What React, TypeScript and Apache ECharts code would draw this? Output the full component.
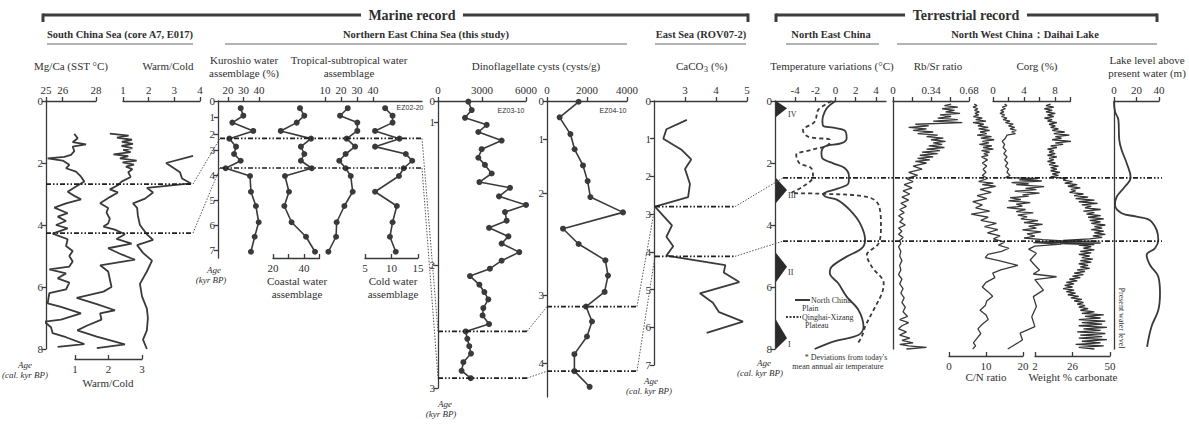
import React, { useEffect, useRef } from "react";
import * as echarts from "echarts";

type Pt = [number, number]; // [age (kyr BP), value]

// ---------------- South China Sea (core A7, E017) ----------------
const scsMgCaSst: Pt[] = [[1.06,26.7],[1.2,26.9],[1.33,26.6],[1.4,27.4],[1.47,26.6],[1.62,26.7],[1.74,26.5],[1.8,26.1],[1.85,25.1],[1.92,26.0],[2.06,26.4],[2.17,26.2],[2.28,26.8],[2.44,27.1],[2.6,27.3],[2.76,26.8],[2.93,26.3],[3.06,26.7],[3.17,27.1],[3.3,26.2],[3.44,25.5],[3.62,26.3],[3.73,25.7],[3.87,26.2],[4.0,25.6],[4.11,26.3],[4.22,25.7],[4.28,25.4],[4.46,26.3],[4.68,26.2],[4.84,26.6],[5.0,26.4],[5.18,26.6],[5.34,26.4],[5.43,25.2],[5.56,26.2],[5.72,25.7],[5.86,26.4],[6.08,26.2],[6.2,25.2],[6.53,25.1],[6.64,25.9],[6.85,27.1],[7.05,25.9],[7.12,24.9],[7.3,25.3],[7.49,25.4],[7.62,26.2],[7.84,27.3],[7.93,25.7]];
const scsWarmColdLower: Pt[] = [[1.05,2.04],[1.12,2.6],[1.18,2.25],[1.25,2.7],[1.32,2.4],[1.38,2.73],[1.45,2.39],[1.52,2.71],[1.58,2.44],[1.65,2.66],[1.72,2.15],[1.78,2.59],[1.85,2.34],[1.92,2.84],[1.98,2.42],[2.05,2.76],[2.12,2.52],[2.2,2.71],[2.3,2.59],[2.45,2.66],[2.6,2.39],[2.72,2.28],[2.85,2.04],[2.95,2.28],[3.1,2.04],[3.3,1.75],[3.45,1.99],[3.6,1.94],[3.8,2.04],[3.95,1.99],[4.05,1.85],[4.15,2.19],[4.3,2.49],[4.45,2.24],[4.6,2.69],[4.75,1.99],[4.95,2.39],[5.12,2.79],[5.3,1.75],[5.5,1.99],[5.75,2.04],[6.0,2.09],[6.15,1.85],[6.35,1.05],[6.55,1.65],[6.75,2.19],[6.85,1.75],[7.05,1.79],[7.25,1.35],[7.4,1.07],[7.6,1.65],[7.85,2.49],[7.97,1.65]];
const scsWarmColdUpper: Pt[] = [[1.77,3.73],[2.0,2.68],[2.3,3.22],[2.5,3.3],[2.66,3.65],[2.8,1.93],[2.95,2.17],[3.15,1.86],[3.3,1.39],[3.45,1.55],[3.7,1.58],[4.0,1.66],[4.3,1.93],[4.48,2.17],[4.65,1.55],[4.9,1.78],[5.15,2.13],[5.5,1.93],[5.9,1.66],[6.3,1.74],[6.7,1.93],[7.0,1.97],[7.4,1.93],[7.7,1.78],[8.0,1.93]];
const scsEvents = [2.68, 4.26];

// ---------------- Northern East China Sea (this study) ----------------
const ez0220Ages = [0.45,0.92,1.33,1.82,2.29,2.79,3.16,3.43,3.73,4.04,4.67,5.24,5.89,6.47,7.07];
const ez0220Kuroshio = [28.2,29.9,22.8,36.3,20.9,25.2,23.9,28.2,18.5,34.2,34.8,38,39.8,37.2,34.8];
const ez0220Coastal = [37.4,40.2,35.3,25,44.5,38,40.2,38,45,27.7,30.3,27.3,32,41.3,47.1];
const ez0220Tropical = [24.2,19.4,30.2,30.2,23.5,28.8,22.9,18.9,22.9,26.1,27.3,22.1,17.3,16.9,12.1];
const ez0220Cold = [8.8,10.2,10.2,6.9,11.5,6.9,12.7,13.9,12.3,11.4,6.9,11,10.2,9.7,10.8];
const ez0220Events = [2.27, 3.72];

const ez0310Ages = [0.03,0.43,0.80,1.02,1.07,1.13,1.19,1.25,1.30,1.36,1.42,1.46,1.52,1.58,1.63,1.69,1.74,1.80,1.85,1.91,1.97,2.03,2.09,2.16,2.22,2.28,2.35,2.41,2.48,2.54,2.60,2.66,2.72,2.79,2.86,2.92];
const ez0310Cysts = [2070,2300,1840,3320,2750,4340,2980,2750,3200,3660,2820,4910,4160,6000,4570,4680,3480,4800,4340,5540,4340,3540,2180,2820,3160,3430,3090,3040,3480,1890,2000,2130,2250,1730,1610,2230];
const ez0310Events = [2.54, 2.92];

const ez0410Ages = [0.02,0.43,0.87,1.19,1.49,1.78,2.04,2.19,2.35,2.50,2.66,2.81,2.97,3.17,3.39,3.61,3.87,4.12,4.35];
const ez0410Cysts = [1580,630,1170,1380,1800,2030,2170,3800,800,1580,2920,3050,2880,1950,2250,2000,1370,1370,2130];
const ez0410Events = [3.17, 4.12];

// age ticks of the cores and their positions along the core axis (age-depth scale)
const ez0220Scale = { ages: [0,1,2,3,4,5,6,7], depth: [0,16,33,49,74,99,124,149], bottom: 157 };
const ez0310Scale = { ages: [0,1,2,3], depth: [0,21,164,287], bottom: 287 };
const ez0410Scale = { ages: [0,1,2,3,4], depth: [0,38,92,194,262], bottom: 296 };

// ---------------- East Sea (ROV07-2) ----------------
const caco3: Pt[] = [[0.5,3.06],[0.75,2.4],[1.0,2.3],[1.3,2.9],[1.55,3.2],[1.8,3.0],[2.2,3.16],[2.55,3.1],[2.8,2.03],[3.3,2.58],[3.6,2.4],[3.85,2.62],[4.1,2.4],[4.35,4.3],[4.55,4.25],[4.8,4.75],[5.1,3.48],[5.35,3.9],[5.6,4.1],[5.85,4.87],[6.15,3.7]];
const caco3Events = [2.8, 4.12];

// ---------------- North East China: temperature deviations ----------------
const northChinaPlain: Pt[] = [[0,0],[0.18,-0.73],[0.34,-1.07],[0.61,-1.3],[0.8,-1.23],[0.86,-0.23],[0.96,0.93],[1.2,1.1],[1.36,0.6],[1.47,-1.07],[1.69,-1.4],[1.85,-1.3],[2.01,-0.23],[2.17,0.93],[2.44,1.33],[2.66,1.27],[2.82,0.27],[3.0,-1.23],[3.09,-0.97],[3.19,0.17],[3.52,1.43],[3.95,2.43],[4.48,2.93],[4.75,2.6],[5.02,1.1],[5.35,-0.4],[5.56,-0.57],[5.88,0.27],[6.31,1.1],[6.74,2.27],[7.28,2.77],[7.55,2.27],[7.76,-0.23],[8.0,-2.07]];
const qinghaiXizang: Pt[] = [[0,-0.4],[0.13,-1.07],[0.29,-1.73],[0.67,-2.07],[0.94,-3.23],[1.15,-2.73],[1.26,-0.57],[1.42,-0.73],[1.58,-2.4],[1.74,-3.9],[2.01,-3.57],[2.17,-2.4],[2.44,-2.23],[2.76,-3.23],[2.96,-4.4],[2.99,-1.57],[3.09,3.1],[3.35,4.27],[4.05,4.5],[4.59,4.27],[4.97,3.1],[5.35,3.6],[5.88,4.77],[6.2,4.6],[6.74,3.77],[7.28,2.93],[7.6,2.6],[7.87,2.1]];
const coldZones = [[0, 0.23, 0.52], [2.48, 2.87, 3.29], [4.9, 5.35, 5.84], [7.06, 7.65, 8.0]];
const coldZoneLabels = ["IV", "III", "II", "I"];
const terrEvents = [2.48, 4.52];

// ---------------- North West China: Daihai Lake ----------------
const rbSr: Pt[] = [[0.10,0.52],[0.15,0.46],[0.20,0.58],[0.25,0.44],[0.30,0.55],[0.35,0.47],[0.40,0.60],[0.45,0.42],[0.50,0.52],[0.55,0.40],[0.60,0.58],[0.65,0.36],[0.70,0.62],[0.75,0.20],[0.80,0.32],[0.85,0.14],[0.90,0.30],[0.95,0.18],[1.00,0.36],[1.05,0.22],[1.10,0.40],[1.15,0.30],[1.20,0.45],[1.25,0.34],[1.30,0.47],[1.35,0.36],[1.40,0.44],[1.45,0.32],[1.50,0.46],[1.55,0.30],[1.60,0.42],[1.65,0.26],[1.70,0.40],[1.75,0.24],[1.80,0.36],[1.85,0.22],[1.90,0.33],[1.95,0.20],[2.00,0.30],[2.10,0.18],[2.20,0.26],[2.30,0.14],[2.40,0.22],[2.50,0.12],[2.60,0.18],[2.70,0.10],[2.80,0.17],[2.90,0.09],[3.00,0.15],[3.10,0.08],[3.20,0.14],[3.30,0.07],[3.40,0.12],[3.50,0.06],[3.60,0.10],[3.70,0.05],[3.80,0.09],[3.90,0.06],[4.00,0.11],[4.10,0.05],[4.20,0.08],[4.30,0.05],[4.40,0.09],[4.50,0.06],[4.60,0.07],[4.70,0.05],[4.85,0.07],[5.00,0.06],[5.15,0.08],[5.30,0.06],[5.45,0.07],[5.60,0.05],[5.75,0.08],[5.90,0.06],[6.05,0.09],[6.20,0.07],[6.35,0.10],[6.50,0.08],[6.65,0.11],[6.80,0.09],[6.95,0.13],[7.05,0.06],[7.15,0.14],[7.25,0.08],[7.35,0.05],[7.45,0.12],[7.55,0.06],[7.65,0.15],[7.72,0.08],[7.80,0.18],[7.85,0.06],[7.90,0.14],[7.95,0.30],[8.00,0.12]];
const cnRatio: Pt[] = [[0.10,6.8],[0.15,7.6],[0.20,6.5],[0.25,7.8],[0.30,6.9],[0.35,8.2],[0.40,7.0],[0.45,8.0],[0.50,6.6],[0.55,9.0],[0.60,7.2],[0.65,10.0],[0.70,6.5],[0.75,9.4],[0.80,7.8],[0.85,10.6],[0.90,8.0],[0.95,11.0],[1.00,8.4],[1.05,10.2],[1.10,7.6],[1.15,11.5],[1.20,8.6],[1.25,12.2],[1.30,9.0],[1.35,10.8],[1.40,8.2],[1.45,11.6],[1.50,9.2],[1.55,12.0],[1.60,8.8],[1.65,11.0],[1.70,9.4],[1.75,10.6],[1.80,8.8],[1.90,10.4],[2.00,9.0],[2.10,10.2],[2.20,9.2],[2.30,10.0],[2.40,9.0],[2.50,10.4],[2.60,8.0],[2.65,12.0],[2.70,9.0],[2.75,12.6],[2.85,8.4],[2.95,11.4],[3.05,7.6],[3.15,10.2],[3.25,6.4],[3.35,9.0],[3.45,7.2],[3.55,11.0],[3.65,6.0],[3.75,10.6],[3.85,8.6],[3.95,12.8],[4.05,9.6],[4.15,13.2],[4.25,10.4],[4.35,13.8],[4.45,12.0],[4.55,15.0],[4.65,13.4],[4.75,16.2],[4.85,14.2],[4.95,10.5],[5.05,9.8],[5.15,13.5],[5.30,18.6],[5.45,14.0],[5.55,11.8],[5.70,12.4],[5.85,10.0],[6.00,9.0],[6.15,10.5],[6.30,11.8],[6.45,10.2],[6.60,9.8],[6.75,8.4],[6.90,10.0],[7.05,10.6],[7.20,9.0],[7.35,7.8],[7.50,8.6],[7.65,7.6],[7.80,6.6],[7.90,7.2],[8.00,6.4]];
const corg: Pt[] = [[0.10,1.5],[0.15,1.8],[0.20,1.2],[0.25,1.6],[0.30,1.0],[0.35,1.4],[0.40,0.9],[0.45,1.5],[0.50,1.1],[0.55,1.8],[0.60,1.3],[0.65,2.2],[0.70,1.6],[0.75,2.6],[0.80,2.0],[0.85,2.8],[0.90,2.2],[0.95,3.0],[1.00,2.4],[1.05,2.9],[1.10,1.8],[1.20,1.6],[1.30,1.2],[1.40,1.5],[1.50,1.3],[1.60,1.7],[1.70,1.4],[1.80,1.8],[1.90,1.5],[2.00,1.9],[2.10,1.6],[2.20,2.0],[2.30,1.8],[2.40,2.2],[2.47,1.6],[2.50,5.8],[2.54,3.4],[2.58,6.3],[2.63,2.4],[2.67,4.6],[2.70,3.0],[2.76,6.6],[2.82,4.2],[2.86,5.6],[2.91,2.8],[2.97,6.0],[3.03,3.8],[3.07,4.6],[3.12,2.2],[3.18,3.6],[3.22,2.0],[3.28,4.8],[3.33,3.0],[3.39,3.8],[3.44,1.8],[3.50,4.2],[3.57,3.0],[3.61,5.2],[3.68,3.2],[3.74,4.4],[3.80,3.6],[3.86,5.8],[3.92,4.0],[3.98,6.4],[4.04,4.6],[4.10,5.6],[4.16,3.8],[4.22,6.2],[4.29,4.4],[4.36,5.4],[4.42,4.0],[4.47,6.4],[4.52,9.6],[4.57,5.2],[4.62,8.8],[4.68,5.4],[4.78,4.6],[4.91,5.6],[5.13,4.8],[5.30,5.4],[5.45,6.0],[5.58,5.2],[5.67,8.2],[5.76,5.4],[5.88,5.8],[6.10,6.5],[6.31,5.2],[6.63,5.6],[6.96,5.0],[7.28,5.4],[7.49,3.5],[7.71,3.8],[8.00,1.9]];
const carbonate: Pt[] = [[0.10,12],[0.15,9],[0.20,14],[0.25,8],[0.30,13],[0.35,9],[0.40,15],[0.45,10],[0.50,14],[0.55,8],[0.60,13],[0.65,10],[0.70,16],[0.75,11],[0.80,15],[0.85,12],[0.90,17],[0.95,13],[1.00,21],[1.05,14],[1.10,24],[1.15,15],[1.20,19],[1.25,13],[1.30,25],[1.35,15],[1.40,20],[1.45,12],[1.50,16],[1.55,10],[1.60,14],[1.65,11],[1.70,15],[1.75,10],[1.80,16],[1.85,11],[1.90,14],[1.95,10],[2.00,15],[2.05,11],[2.10,17],[2.15,12],[2.20,16],[2.25,12],[2.30,18],[2.35,13],[2.40,17],[2.45,12],[2.50,22],[2.55,20],[2.60,26],[2.65,21],[2.70,29],[2.75,23],[2.80,31],[2.85,25],[2.90,28],[2.95,24],[3.00,33],[3.05,27],[3.10,36],[3.15,28],[3.20,40],[3.25,30],[3.30,42],[3.35,32],[3.40,38],[3.45,34],[3.50,44],[3.55,33],[3.60,40],[3.65,35],[3.70,44],[3.75,36],[3.80,46],[3.85,37],[3.90,44],[3.95,38],[4.00,47],[4.05,40],[4.10,45],[4.15,38],[4.20,46],[4.25,40],[4.30,47],[4.35,39],[4.40,45],[4.45,37],[4.50,20],[4.52,42],[4.55,2],[4.58,44],[4.60,18],[4.63,40],[4.65,30],[4.70,38],[4.75,33],[4.80,40],[4.85,31],[4.90,38],[4.95,30],[5.00,37],[5.05,32],[5.10,39],[5.15,31],[5.20,38],[5.25,30],[5.30,36],[5.35,31],[5.40,37],[5.45,29],[5.50,34],[5.55,27],[5.60,33],[5.65,26],[5.70,31],[5.75,24],[5.80,29],[5.85,22],[5.90,27],[5.95,21],[6.00,26],[6.05,20],[6.10,27],[6.15,22],[6.20,28],[6.25,23],[6.30,30],[6.35,25],[6.40,32],[6.45,27],[6.50,33],[6.55,29],[6.60,34],[6.65,30],[6.70,36],[6.75,31],[6.80,40],[6.85,32],[6.90,46],[6.95,34],[7.00,44],[7.05,30],[7.10,47],[7.15,32],[7.20,45],[7.25,30],[7.30,48],[7.35,33],[7.40,44],[7.45,29],[7.50,47],[7.55,31],[7.60,45],[7.65,30],[7.70,48],[7.75,32],[7.80,44],[7.85,28],[7.90,46],[7.95,30],[8.00,40]];
const lakeLevel: Pt[] = [[0.02,0],[0.34,0.9],[0.61,3.9],[1.26,4.7],[1.58,6.8],[2.01,11.3],[2.47,14.8],[2.76,9.8],[3.09,2.4],[3.35,0.9],[3.62,6.8],[3.73,20],[3.89,33.3],[4.48,39.4],[4.75,36.4],[4.97,29],[5.29,32],[5.67,39.4],[6.2,40.9],[6.74,39.4],[7.28,33.3],[7.93,29.4]];

// ---------------- styling ----------------
const SERIF = "'Liberation Serif', 'Times New Roman', serif";
const SANS = "'Liberation Sans', Arial, sans-serif";
const INK = "#3a3a3a";
const TXT = "#2f2f2f";
const AX = { color: "#3a3a3a", width: 1.3 };

function toDepth(s: { ages: number[]; depth: number[] }, age: number) {
  const a = s.ages, d = s.depth;
  let i = 0;
  while (i < a.length - 2 && age > a[i + 1]) i++;
  return d[i] + ((age - a[i]) * (d[i + 1] - d[i])) / (a[i + 1] - a[i]);
}
const depthFmt = (s: { ages: number[]; depth: number[] }) => (v: number) => {
  const i = s.depth.findIndex((d) => Math.abs(d - v) < 0.01);
  return i >= 0 ? String(s.ages[i]) : "";
};

function buildOption() {
  const grid: any[] = [], xAxis: any[] = [], yAxis: any[] = [], series: any[] = [];
  const lbl = { color: TXT, fontFamily: SERIF, fontSize: 11 };

  function panel(left: number, top: number, width: number, height: number) {
    grid.push({ left, top, width, height, show: false });
    return grid.length - 1;
  }
  function xA(g: number, min: number, max: number, o: any = {}) {
    xAxis.push({
      gridIndex: g, type: "value", min, max, position: o.pos || "top", offset: o.offset || 0,
      show: o.hidden ? false : true,
      axisLine: { show: o.line !== false, onZero: false, lineStyle: AX },
      axisTick: { show: !!o.ticks, customValues: o.ticks, inside: !!o.inside, length: 4, lineStyle: AX },
      axisLabel: { show: !!o.labels, customValues: o.labels, margin: o.pos === "bottom" ? 4 : 6, formatter: (v: number) => String(v), ...lbl },
      splitLine: { show: false },
    });
  }
  function yA(g: number, max: number, o: any = {}) {
    yAxis.push({
      gridIndex: g, type: "value", inverse: true, min: 0, max,
      show: o.hidden ? false : true,
      axisLine: { show: !!o.line, onZero: false, lineStyle: AX },
      axisTick: { show: !!o.ticks, customValues: o.ticks, length: 4, lineStyle: AX },
      axisLabel: { show: !!o.labels, customValues: o.labels, margin: 3, formatter: o.fmt || ((v: number) => String(v)), ...lbl },
      splitLine: { show: false },
    });
  }
  function line(g: number, data: number[][], extra: any = {}) {
    series.push({
      type: "line", xAxisIndex: g, yAxisIndex: g, data, symbol: "none", clip: false, silent: true,
      lineStyle: { color: INK, width: 1.6 }, ...extra,
    });
  }
  const flip = (d: Pt[]) => d.map(([a, v]) => [v, a]);
  const dots = { symbol: "circle", symbolSize: 6, showSymbol: true, itemStyle: { color: INK } };

  // 0 SCS Mg/Ca SST
  const g0 = panel(46, 101, 50, 248);
  xA(g0, 25, 28, { ticks: [25, 26, 28], labels: [25, 26, 28] });
  yA(g0, 8, { line: true, ticks: [0, 2, 4, 6, 8], labels: [0, 2, 4, 6, 8] });
  line(g0, flip(scsMgCaSst), { lineStyle: { color: INK, width: 1.8 } });
  // 1 SCS Warm/Cold (top axis)
  const g1 = panel(123, 101, 77, 248);
  xA(g1, 1, 4, { ticks: [1, 2, 3, 4], labels: [1, 2, 3, 4] });
  yA(g1, 8, { hidden: true });
  line(g1, flip(scsWarmColdUpper), { lineStyle: { color: INK, width: 1.8 } });
  // 2 SCS Warm/Cold (bottom axis)
  const g2 = panel(75, 101, 67, 248);
  xA(g2, 1, 3, { pos: "bottom", offset: 10, ticks: [1, 2, 3], labels: [1, 2, 3], inside: true });
  yA(g2, 8, { hidden: true });
  line(g2, flip(scsWarmColdLower), { lineStyle: { color: INK, width: 1.8 } });

  // 3 EZ02-20 frame
  const sc1 = ez0220Scale;
  const g3 = panel(218, 101, 204, sc1.bottom);
  xA(g3, 0, 1, {});
  yA(g3, sc1.bottom, { line: true, ticks: sc1.depth, labels: sc1.depth, fmt: depthFmt(sc1) });
  const ezPts = (vals: number[]) => vals.map((v, i) => [v, toDepth(sc1, ez0220Ages[i])]);
  // 4 Kuroshio
  const g4 = panel(228, 101, 31, sc1.bottom);
  xA(g4, 20, 40, { line: false, ticks: [20, 30, 40], labels: [20, 30, 40] });
  yA(g4, sc1.bottom, { hidden: true });
  line(g4, ezPts(ez0220Kuroshio), dots);
  // 5 Coastal
  const g5 = panel(273, 101, 46.5, sc1.bottom);
  xA(g5, 20, 50, { pos: "bottom", ticks: [20, 30, 40, 50], labels: [20, 40], inside: true });
  yA(g5, sc1.bottom, { hidden: true });
  line(g5, ezPts(ez0220Coastal), dots);
  // 6 Tropical-subtropical
  const g6 = panel(325, 101, 48, sc1.bottom);
  xA(g6, 10, 40, { line: false, ticks: [10, 20, 30, 40], labels: [10, 20, 30, 40] });
  yA(g6, sc1.bottom, { hidden: true });
  line(g6, ezPts(ez0220Tropical), dots);
  // 7 Cold water
  const g7 = panel(365, 101, 53, sc1.bottom);
  xA(g7, 5, 15, { pos: "bottom", ticks: [5, 10, 15], labels: [5, 10, 15], inside: true });
  yA(g7, sc1.bottom, { hidden: true });
  line(g7, ezPts(ez0220Cold), dots);

  // 8 EZ03-10
  const sc2 = ez0310Scale;
  const g8 = panel(438, 101, 88, sc2.bottom);
  xA(g8, 0, 6000, { ticks: [0, 3000, 6000], labels: [0, 3000, 6000] });
  yA(g8, sc2.bottom, { line: true, ticks: sc2.depth, labels: sc2.depth, fmt: depthFmt(sc2) });
  line(g8, ez0310Cysts.map((v, i) => [v, toDepth(sc2, ez0310Ages[i])]), dots);
  // 9 EZ04-10
  const sc3 = ez0410Scale;
  const g9 = panel(547, 101, 80, sc3.bottom);
  xA(g9, 0, 4000, { ticks: [0, 2000, 4000], labels: [0, 2000, 4000] });
  yA(g9, sc3.bottom, { line: true, ticks: sc3.depth, labels: sc3.depth, fmt: depthFmt(sc3) });
  line(g9, ez0410Cysts.map((v, i) => [v, toDepth(sc3, ez0410Ages[i])]), dots);

  // 10 CaCO3
  const g10 = panel(654, 101, 93, 264);
  xA(g10, 2, 5, { ticks: [3, 4, 5], labels: [3, 4, 5] });
  yA(g10, 7, { line: true, ticks: [0, 1, 2, 3, 4, 5, 6, 7], labels: [0, 1, 2, 3, 4, 5, 6, 7] });
  line(g10, flip(caco3), { lineStyle: { color: INK, width: 1.8 } });

  // 11 Temperature
  const g11 = panel(775, 101, 111, 248);
  xA(g11, -6, 5, { ticks: [-4, -2, 0, 2, 4], labels: [-4, -2, 0, 2, 4] });
  yA(g11, 8, { line: true, ticks: [0, 2, 4, 6, 8], labels: [0, 2, 4, 6, 8] });
  line(g11, flip(northChinaPlain), { smooth: 0.35, lineStyle: { color: INK, width: 1.8 } });
  line(g11, flip(qinghaiXizang), { smooth: 0.35, lineStyle: { color: INK, width: 1.8, type: [4, 3] } });
  series.push({
    type: "custom", xAxisIndex: g11, yAxisIndex: g11, silent: true, clip: false,
    data: coldZones.map((z) => [-6, z[0], z[1], z[2]]),
    encode: { x: 0, y: 1 },
    renderItem: (params: any, api: any) => {
      const top = api.coord([api.value(0), api.value(1)]);
      const apex = api.coord([api.value(0), api.value(2)]);
      const bot = api.coord([api.value(0), api.value(3)]);
      return {
        type: "group",
        children: [
          { type: "polygon", shape: { points: [[top[0] + 1, top[1]], [apex[0] + 12, apex[1]], [bot[0] + 1, bot[1]]] }, style: { fill: "#2b2b2b" } },
          { type: "text", x: apex[0] + 13, y: apex[1] + 6, style: { text: coldZoneLabels[params.dataIndex], fill: TXT, font: `8px ${SERIF}`, align: "left", verticalAlign: "middle" } },
        ],
      };
    },
  });

  // 12 Rb/Sr
  const g12 = panel(893, 101, 76, 248);
  xA(g12, 0, 0.68, { ticks: [0, 0.17, 0.34, 0.51, 0.68], labels: [0, 0.34, 0.68] });
  yA(g12, 8, { line: true });
  line(g12, flip(rbSr), { lineStyle: { color: INK, width: 1.3 } });
  // 13 C/N
  const g13 = panel(949, 101, 74, 248);
  xA(g13, 0, 20, { pos: "bottom", offset: 7, ticks: [0, 10, 20], labels: [0, 10, 20], inside: true });
  yA(g13, 8, { hidden: true });
  line(g13, flip(cnRatio), { lineStyle: { color: INK, width: 1.3 } });
  // 14 Corg
  const g14 = panel(993, 101, 77.5, 248);
  xA(g14, 0, 10, { ticks: [0, 2, 4, 6, 8, 10], labels: [0, 4, 8] });
  yA(g14, 8, { hidden: true });
  line(g14, flip(corg), { lineStyle: { color: INK, width: 1.3 } });
  // 15 carbonate
  const g15 = panel(1035, 101, 75, 248);
  xA(g15, 2, 50, { pos: "bottom", offset: 7, ticks: [2, 26, 50], labels: [2, 26, 50], inside: true });
  yA(g15, 8, { hidden: true });
  line(g15, flip(carbonate), { lineStyle: { color: "#333", width: 1.3 } });
  // 16 lake level
  const g16 = panel(1114, 101, 45, 248);
  xA(g16, 0, 40, { ticks: [0, 20, 40], labels: [0, 20, 40] });
  yA(g16, 8, { line: true });
  line(g16, flip(lakeLevel), { smooth: 0.4, lineStyle: { color: INK, width: 1.8 } });

  return { animation: false, backgroundColor: "#ffffff", grid, xAxis, yAxis, series };
}

function buildGraphics(chart: any) {
  const els: any[] = [];
  const ln = (x1: number, y1: number, x2: number, y2: number, stroke: string, lineWidth: number, lineDash?: number[], z = 5) =>
    els.push({ type: "line", silent: true, z, shape: { x1, y1, x2, y2 }, style: { stroke, lineWidth, lineDash } });
  const tx = (x: number, y: number, text: string, font: string, align = "center", extra: any = {}) =>
    els.push({ type: "text", silent: true, z: 6, x, y, ...extra, style: { text, font, fill: TXT, align, verticalAlign: "middle", textAlign: align, textVerticalAlign: "middle" } });

  // header brackets
  const HB = "#3d3d3d";
  ln(43, 15, 361, 15, HB, 3); ln(463, 15, 748, 15, HB, 3);
  ln(43, 13.5, 43, 22, HB, 3); ln(748, 13.5, 748, 22, HB, 3);
  tx(412, 15, "Marine record", `bold 14px ${SERIF}`);
  ln(776, 15, 905, 15, HB, 3); ln(1027, 15, 1157, 15, HB, 3);
  ln(776, 13.5, 776, 22, HB, 3); ln(1157, 13.5, 1157, 22, HB, 3);
  tx(966, 15, "Terrestrial record", `bold 14px ${SERIF}`);

  // sub headers
  const SB = `bold 10.5px ${SERIF}`;
  tx(120, 34, "South China Sea (core A7, E017)", SB);
  tx(426, 34, "Northern East China Sea (this study)", SB);
  tx(701, 34, "East Sea (ROV07-2)", SB);
  tx(831, 34, "North East China", SB);
  tx(1025, 34, "North West China：Daihai Lake", SB);
  const UL = "#b3b3b3";
  ln(47, 44, 193, 44, UL, 2); ln(225, 44, 627, 44, UL, 2); ln(655, 44, 746, 44, UL, 2);
  ln(786, 44, 879, 44, UL, 2); ln(897, 44, 1157, 44, UL, 2);

  // panel titles
  const PT = `11px ${SERIF}`;
  tx(71, 66, "Mg/Ca (SST °C)", PT);
  tx(168, 66, "Warm/Cold", PT);
  tx(244, 60, "Kuroshio water", PT); tx(244, 73, "assemblage (%)", PT);
  tx(349, 60, "Tropical-subtropical water", PT); tx(349, 73, "assemblage", PT);
  tx(536, 66, "Dinoflagellate cysts (cysts/g)", PT);
  tx(676, 66, "CaCO", PT, "left"); tx(704, 69, "3", `8px ${SERIF}`, "left"); tx(711, 66, "(%)", PT, "left");
  tx(832, 66, "Temperature variations (°C)", PT);
  tx(938, 66, "Rb/Sr ratio", PT);
  tx(1037, 66, "Corg (%)", PT);
  tx(1147, 60, "Lake level above", PT); tx(1147, 73, "present water (m)", PT);

  // bottom axis names
  tx(108, 383, "Warm/Cold", PT);
  tx(297, 281, "Coastal water", PT); tx(297, 294, "assemblage", PT);
  tx(393, 281, "Cold water", PT); tx(393, 294, "assemblage", PT);
  tx(986, 377, "C/N ratio", PT);
  tx(1073, 377, "Weight % carbonate", PT);

  // core labels
  const CL = `7px ${SANS}`;
  tx(410, 107, "EZ02-20", CL); tx(511, 110, "EZ03-10", CL); tx(613, 110, "EZ04-10", CL);

  // age axis names
  const AI = `italic 9px ${SERIF}`;
  tx(25, 365, "Age", AI); tx(25, 375, "(cal. kyr BP)", AI);
  tx(214, 270, "Age", AI); tx(211, 280, "(kyr BP)", AI);
  tx(445, 404, "Age", AI); tx(441, 414, "(kyr BP)", AI);
  tx(651, 381, "Age", AI); tx(649, 391, "(cal. kyr BP)", AI);
  tx(764, 363, "Age", AI); tx(760, 373, "(cal. kyr BP)", AI);

  // temperature legend and note
  const LF = `8px ${SERIF}`;
  ln(795, 300, 810, 300, INK, 2);
  tx(811, 300, "North China", LF, "left"); tx(802, 308, "Plain", LF, "left");
  ln(786, 317, 801, 317, INK, 2, [2, 1.5]);
  tx(802, 317, "Qinghai-Xizang", LF, "left"); tx(805, 325, "Plateau", LF, "left");
  tx(846, 357, "* Deviations from today's", LF);
  tx(838, 366, "mean annual air temperature", LF);

  // present water level
  tx(1121, 318, "Present water level", `8px ${SERIF}`, "center", { rotation: -Math.PI / 2 });

  // event lines and connectors
  const yp = (i: number, v: number) => chart.convertToPixel({ yAxisIndex: i }, v) as number;
  const sets = [
    { ax: 0, vals: scsEvents, x1: 46, x2: 193 },
    { ax: 3, vals: ez0220Events.map((a) => toDepth(ez0220Scale, a)), x1: 220, x2: 422 },
    { ax: 8, vals: ez0310Events.map((a) => toDepth(ez0310Scale, a)), x1: 438, x2: 527 },
    { ax: 9, vals: ez0410Events.map((a) => toDepth(ez0410Scale, a)), x1: 547, x2: 637 },
    { ax: 10, vals: caco3Events, x1: 655, x2: 735 },
    { ax: 11, vals: terrEvents, x1: 783, x2: 1162 },
  ];
  const ys = sets.map((s) => s.vals.map((v) => yp(s.ax, v)));
  sets.forEach((s, i) => ys[i].forEach((y) => ln(s.x1, y, s.x2, y, "#1f1f1f", 1.7, [5, 2, 1.5, 2, 1.5, 2], 20)));
  for (let i = 0; i < sets.length - 1; i++) {
    for (let k = 0; k < 2; k++) ln(sets[i].x2, ys[i][k], sets[i + 1].x1, ys[i + 1][k], "#555", 1, [1.5, 1.5], 20);
  }
  return els;
}

export default function App() {
  const ref = useRef<HTMLDivElement>(null);
  useEffect(() => {
    document.body.style.margin = "0";
    const chart = echarts.init(ref.current!, undefined, { renderer: "svg", width: 1189, height: 433 });
    chart.setOption(buildOption() as any);
    chart.setOption({ graphic: buildGraphics(chart) } as any);
    return () => chart.dispose();
  }, []);
  return <div ref={ref} style={{ width: 1189, height: 433, background: "#fff" }} />;
}
